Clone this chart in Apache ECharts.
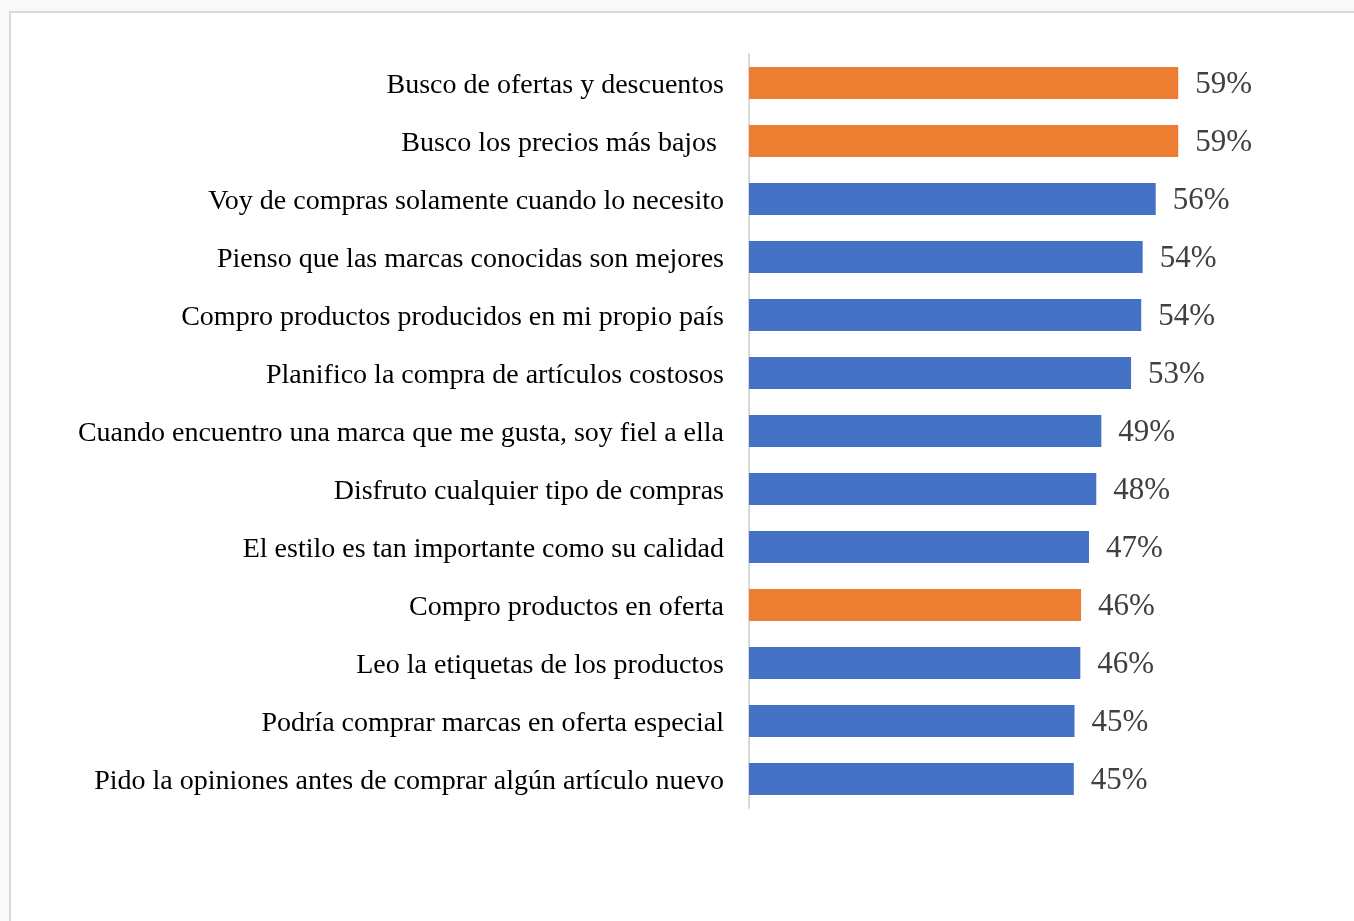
<!DOCTYPE html>
<html>
<head>
<meta charset="utf-8">
<script src="https://cdn.jsdelivr.net/npm/echarts@6/dist/echarts.min.js"></script>
<style>
  html, body { margin: 0; padding: 0; background: #f9f9f9; }
  #chart { width: 1354px; height: 921px; }
</style>
</head>
<body>
<div id="chart"></div>
<script>
const categories = [
  'Busco de ofertas y descuentos',
  'Busco los precios más bajos ',
  'Voy de compras solamente cuando lo necesito',
  'Pienso que las marcas conocidas son mejores',
  'Compro productos producidos en mi propio país',
  'Planifico la compra de artículos costosos',
  'Cuando encuentro una marca que me gusta, soy fiel a ella',
  'Disfruto cualquier tipo de compras',
  'El estilo es tan importante como su calidad',
  'Compro productos en oferta',
  'Leo la etiquetas de los productos',
  'Podría comprar marcas en oferta especial',
  'Pido la opiniones antes de comprar algún artículo nuevo'
];
const values = [59.2, 59.2, 56.1, 54.3, 54.1, 52.7, 48.6, 47.9, 46.9, 45.8, 45.7, 44.9, 44.8];
const highlighted = [
  'Busco de ofertas y descuentos',
  'Busco los precios más bajos ',
  'Compro productos en oferta'
];

const ORANGE = '#ED7D31';
const BLUE = '#4472C4';
const SERIF = '"Liberation Serif", "Times New Roman", serif';

const chart = echarts.init(document.getElementById('chart'), null, { renderer: 'canvas' });
chart.setOption({
  backgroundColor: '#f9f9f9',
  animation: false,
  graphic: [{
    type: 'rect',
    shape: { x: 10, y: 12, width: 1400, height: 1000 },
    style: { fill: '#ffffff', stroke: '#d9d9d9', lineWidth: 2 },
    z: -10
  }],
  grid: { left: 749, top: 54, width: 580, height: 754, containLabel: false },
  xAxis: {
    type: 'value', min: 0, max: 80,
    show: false
  },
  yAxis: {
    type: 'category',
    data: categories,
    inverse: true,
    axisLine: { show: true, lineStyle: { color: '#d9d9d9', width: 2 } },
    axisTick: { show: false },
    axisLabel: {
      margin: 25,
      formatter: v => '{a|' + v + '}',
      rich: {
        a: {
          color: '#000000',
          fontFamily: SERIF,
          fontSize: 28,
          padding: [5, 0, 0, 0]
        }
      }
    }
  },
  series: [{
    type: 'bar',
    barWidth: 32,
    data: values.map((v, i) => ({
      value: v,
      itemStyle: { color: highlighted.includes(categories[i]) ? ORANGE : BLUE }
    })),
    label: {
      show: true,
      position: 'right',
      distance: 17,
      offset: [0, 2],
      color: '#404040',
      fontFamily: SERIF,
      fontSize: 31,
      formatter: p => Math.round(p.value) + '%'
    }
  }]
});
</script>
</body>
</html>
